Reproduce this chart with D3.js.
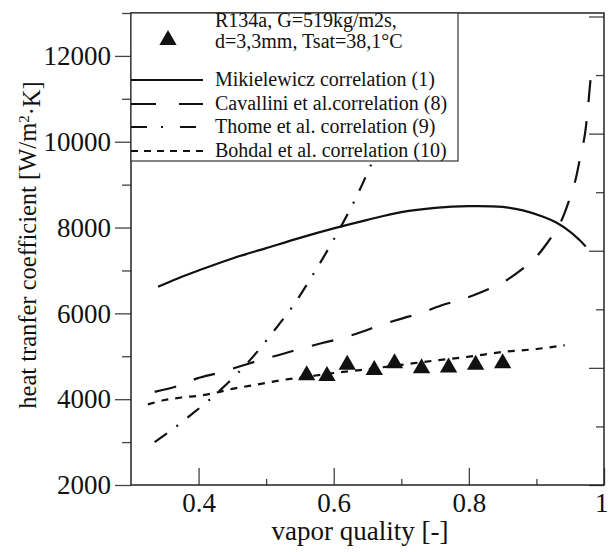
<!DOCTYPE html>
<html>
<head>
<meta charset="utf-8">
<script src="https://cdn.jsdelivr.net/npm/d3@7"></script>
<style>
  body { margin: 0; background: #fff; }
  text { font-family: "Liberation Serif", "Times New Roman", serif; fill: #111; }
</style>
</head>
<body>
<svg id="chart"></svg>
<script>
// experimental points
const expX = [0.56, 0.59, 0.62, 0.66, 0.69, 0.73, 0.77, 0.81, 0.85];
const expH = [4560, 4540, 4800, 4680, 4840, 4720, 4740, 4800, 4840];

// correlations
const mikX = [0.34, 0.37, 0.40, 0.45, 0.50, 0.55, 0.60, 0.65, 0.70, 0.75, 0.80, 0.85, 0.88, 0.91, 0.93, 0.95, 0.963, 0.973];
const mikH = [6620, 6820, 7000, 7280, 7520, 7760, 7980, 8180, 8360, 8460, 8500, 8480, 8400, 8250, 8110, 7900, 7720, 7560];

const cavX = [0.335, 0.368, 0.399, 0.429, 0.458, 0.491, 0.519, 0.55, 0.583, 0.614, 0.642, 0.67, 0.703, 0.728, 0.762, 0.787, 0.819, 0.849, 0.873, 0.898, 0.916, 0.935, 0.947, 0.957, 0.964, 0.972, 0.982];
const cavH = [4170, 4300, 4490, 4610, 4750, 4910, 5030, 5170, 5310, 5430, 5570, 5730, 5890, 6000, 6200, 6310, 6500, 6710, 6960, 7290, 7640, 8100, 8570, 9060, 9570, 10200, 11830];

const thoX = [0.335, 0.36, 0.39, 0.42, 0.45, 0.48, 0.51, 0.54, 0.57, 0.60, 0.63, 0.65, 0.67, 0.69];
const thoH = [3000, 3280, 3650, 4040, 4480, 4980, 5560, 6180, 6920, 7720, 8600, 9280, 10000, 10800];

const bohX = [0.325, 0.35, 0.375, 0.40, 0.425, 0.45, 0.475, 0.50, 0.525, 0.55, 0.60, 0.65, 0.70, 0.75, 0.80, 0.85, 0.90, 0.942];
const bohH = [3880, 3980, 4040, 4080, 4150, 4240, 4310, 4380, 4450, 4500, 4610, 4700, 4800, 4900, 4990, 5100, 5170, 5260];

const xMajor = [0.4, 0.6, 0.8, 1];
const xMinor = [0.5, 0.7, 0.9];
const yMajor = [2000, 4000, 6000, 8000, 10000, 12000];
const yMinor = [3000, 5000, 7000, 9000, 11000, 13000];
const rightMajor = [0, 2, 4, 6, 8];
const rightMinor = [1, 3, 5, 7];

const legendLabels = [
  'Mikielewicz correlation (1)',
  'Cavallini et al.correlation (8)',
  'Thome et al. correlation (9)',
  'Bohdal et al. correlation (10)'
];

const width = 608, height = 552;
const margin = {left: 131, right: 604, top: 13, bottom: 485};

const svg = d3.select('#chart').attr('width', width).attr('height', height);

const x = d3.scaleLinear().domain([0.3, 1.0]).range([margin.left, margin.right]);
const y = d3.scaleLinear().domain([2000, 13000]).range([margin.bottom, margin.top]);
const yr = d3.scaleLinear().domain([0, 8]).range([margin.bottom, 16.5]);

// curves
const line = d3.line().x(d => x(d[0])).y(d => y(d[1])).curve(d3.curveMonotoneX);
const lineY = d3.line().x(d => x(d[0])).y(d => y(d[1])).curve(d3.curveCatmullRom);

const series = [
  {xs: mikX, hs: mikH, dash: null, gen: lineY},
  {xs: cavX, hs: cavH, dash: '22,19', gen: lineY},
  {xs: thoX, hs: thoH, dash: '15,12,2,12', gen: lineY},
  {xs: bohX, hs: bohH, dash: '7,7', gen: line}
];

series.forEach(s => {
  svg.append('path')
    .datum(s.xs.map((v, i) => [v, s.hs[i]]))
    .attr('d', s.gen)
    .attr('fill', 'none')
    .attr('stroke', '#111')
    .attr('stroke-width', 2.2)
    .attr('stroke-dasharray', s.dash);
});

// experimental triangles
svg.append('g').selectAll('path')
  .data(expX.map((v, i) => [v, expH[i]]))
  .enter()
  .append('path')
  .attr('d', d3.symbol(d3.symbolTriangle, 130))
  .attr('transform', d => `translate(${x(d[0])},${y(d[1])})`)
  .attr('fill', '#111');

// axes
const tickStyle = g => {
  g.select('.domain').remove();
  g.selectAll('line').attr('stroke', '#444').attr('stroke-width', 1.3);
  g.selectAll('text').style('font-size', '27px').style('font-family', '"Liberation Serif", serif').attr('fill', '#111');
};

svg.append('g').attr('transform', `translate(${margin.left},0)`)
  .call(d3.axisLeft(y).tickValues(yMajor).tickSize(16).tickPadding(4).tickFormat(d3.format('d')))
  .call(tickStyle);
svg.append('g').attr('transform', `translate(${margin.left},0)`)
  .call(d3.axisLeft(y).tickValues(yMinor).tickSize(9).tickFormat(''))
  .call(tickStyle);

svg.append('g').attr('transform', `translate(0,${margin.bottom})`)
  .call(d3.axisBottom(x).tickValues(xMajor).tickSizeInner(-17).tickSizeOuter(0).tickPadding(8).tickFormat(d => d === 1 ? '1' : d3.format('.1f')(d)))
  .call(tickStyle)
  .call(g => g.selectAll('text').filter(d => d === 1).attr('text-anchor', 'end').attr('x', 4));
svg.append('g').attr('transform', `translate(0,${margin.bottom})`)
  .call(d3.axisBottom(x).tickValues(xMinor).tickSizeInner(-6).tickSizeOuter(0).tickFormat(''))
  .call(tickStyle);

svg.append('g').attr('transform', `translate(${margin.right},0)`)
  .call(d3.axisLeft(yr).tickValues(rightMajor).tickSize(15).tickFormat(''))
  .call(tickStyle);
svg.append('g').attr('transform', `translate(${margin.right},0)`)
  .call(d3.axisLeft(yr).tickValues(rightMinor).tickSize(8).tickFormat(''))
  .call(tickStyle);

// frame
svg.append('rect')
  .attr('x', margin.left).attr('y', margin.top)
  .attr('width', margin.right - margin.left).attr('height', margin.bottom - margin.top)
  .attr('fill', 'none').attr('stroke', '#222').attr('stroke-width', 1.5);

// axis titles
svg.append('text')
  .attr('x', 360).attr('y', 540)
  .attr('text-anchor', 'middle')
  .style('font-size', '27px')
  .text('vapor quality [-]');

const yt = svg.append('text')
  .attr('transform', 'translate(36,245) rotate(-90)')
  .attr('text-anchor', 'middle')
  .style('font-size', '24.5px');
yt.append('tspan').text('heat tranfer coefficient [W/m');
yt.append('tspan').attr('dy', '-0.45em').style('font-size', '15px').text('2');
yt.append('tspan').attr('dy', '0.45em').text('\u00B7K]');

// legend
const lg = svg.append('g');
lg.append('rect')
  .attr('x', margin.left).attr('y', margin.top)
  .attr('width', 327).attr('height', 148)
  .attr('fill', '#fff').attr('stroke', '#333').attr('stroke-width', 1.2);

lg.append('path')
  .attr('d', d3.symbol(d3.symbolTriangle, 130))
  .attr('transform', 'translate(168,40)')
  .attr('fill', '#111');
lg.append('text').attr('x', 215).attr('y', 27).style('font-size', '20px').text('R134a, G=519kg/m2s,');
lg.append('text').attr('x', 215).attr('y', 48).style('font-size', '20px').text('d=3,3mm, Tsat=38,1\u00B0C');

const legY = [80, 104, 127, 151];
legendLabels.forEach((lab, i) => {
  lg.append('line')
    .attr('x1', margin.left).attr('x2', 203)
    .attr('y1', legY[i]).attr('y2', legY[i])
    .attr('stroke', '#111').attr('stroke-width', 2.2)
    .attr('stroke-dasharray', [null, '25,23', '16,14,2,17', '7,6'][i]);
  lg.append('text')
    .attr('x', 215).attr('y', legY[i] + 6)
    .style('font-size', '20px')
    .text(lab);
});
</script>
</body>
</html>
